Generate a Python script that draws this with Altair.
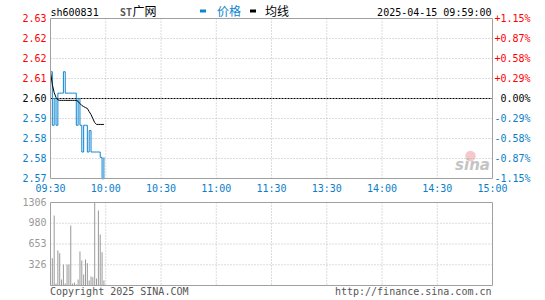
import altair as alt
import pandas as pd

# ---------------- data ----------------
minutes = list(range(30))  # 09:30 .. 09:59
price = [2.610, 2.590, 2.600, 2.590, 2.602, 2.602, 2.602, 2.610, 2.602, 2.602,
         2.602, 2.602, 2.602, 2.602, 2.590, 2.600, 2.590, 2.580, 2.590, 2.590,
         2.580, 2.588, 2.580, 2.580, 2.580, 2.580, 2.580, 2.578, 2.570, 2.578]
avg_price = [2.6101, 2.6052, 2.6022, 2.6004, 2.5995, 2.5993, 2.5993, 2.5993, 2.5993, 2.5993,
             2.5993, 2.5993, 2.5993, 2.5993, 2.5993, 2.5989, 2.5981, 2.5974, 2.5970, 2.5966,
             2.5963, 2.5951, 2.5940, 2.5925, 2.5910, 2.5903, 2.5903, 2.5903, 2.5903, 2.5903]
volume = [661, 430, 1101, 31, 551, 508, 94, 330, 31, 330,
          330, 944, 31, 47, 16, 94, 535, 393, 173, 409,
          351, 79, 142, 131, 1306, 110, 1180, 802, 524, 79]

prev_close = 2.60
price_top = 2.6299
price_bottom = 2.5701
vol_top = 1306

time_pos = [0, 30, 60, 90, 120, 150, 180, 210, 240]
time_labels = ["09:30", "10:00", "10:30", "11:00", "11:30", "13:30", "14:00", "14:30", "15:00"]
price_labels = ["2.63", "2.62", "2.62", "2.61", "2.60", "2.59", "2.58", "2.58", "2.57"]
pct_labels = ["+1.15%", "+0.87%", "+0.58%", "+0.29%", "0.00%", "-0.29%", "-0.58%", "-0.87%", "-1.15%"]
vol_labels = ["1306", "980", "653", "326"]

# ---------------- layout ----------------
W = 442
H = 267
RED = "#ff0000"
BLUE = "#0a7ec8"
LINE_BLUE = "#0f84d0"
GRID = "#b8b8b8"
BORDER = "#a0a0a0"
MONO = "DejaVu Sans Mono"
CJK = "Noto Sans CJK SC"

xs = alt.Scale(domain=[0, 240], range=[0, W], nice=False, zero=False)
ps = alt.Scale(domain=[price_bottom, price_top], range=[160, 0], nice=False, zero=False)
vs = alt.Scale(domain=[0, vol_top], range=[H, 184], nice=False, zero=False)

step = (price_top - prev_close) / 4
grid_vals = [price_top - i * step for i in range(9)]
lab_colors = [RED] * 4 + ["#000000"] + [BLUE] * 4
grid_df = pd.DataFrame({"p": grid_vals, "lab": price_labels, "pct": pct_labels, "c": lab_colors})
inner_grid = grid_df[(grid_df.index != 0) & (grid_df.index != 4) & (grid_df.index != 8)]

time_df = pd.DataFrame({"t": time_pos, "lab": time_labels})
inner_time = time_df[(time_df.t > 0) & (time_df.t < 240)]

vol_grid_vals = [vol_top * (4 - i) / 4 for i in range(4)]
vol_lab_df = pd.DataFrame({"v": vol_grid_vals, "lab": vol_labels})
vol_inner = vol_lab_df[vol_lab_df.v < vol_top]

series = pd.DataFrame({"m": minutes, "price": price, "avg": avg_price,
                       "vol": volume, "zero": [0] * len(minutes)})

X = lambda f: alt.X(f, type="quantitative", scale=xs, axis=None)
YP = lambda f: alt.Y(f, type="quantitative", scale=ps, axis=None)
YV = lambda f: alt.Y(f, type="quantitative", scale=vs, axis=None)

layers = []

# watermark logo (behind everything)
layers.append(alt.Chart(pd.DataFrame({"k": [0]})).mark_point(
    filled=True, color="#f2bcbc", size=110, opacity=0.8).encode(
    x=alt.value(420), y=alt.value(137.5)))

def txt(s, x, y, align="left", color="#000000", font=MONO, size=10, **kw):
    return alt.Chart(pd.DataFrame({"s": [s]})).mark_text(
        align=align, baseline="alphabetic", font=font, fontSize=size, color=color, **kw).encode(
        x=alt.value(x), y=alt.value(y), text="s:N")

layers.append(txt("sina", 422, 151.5, align="center", color="#c4c4c4", font="DejaVu Sans", size=15,
                  fontStyle="italic", fontWeight="bold"))

# price panel horizontal dotted grid
layers.append(alt.Chart(inner_grid).mark_rule(color=GRID, strokeDash=[1, 2], strokeWidth=1).encode(
    x=alt.value(0), x2=alt.value(W), y=YP("p")))
# vertical dotted grid (price + volume panels)
layers.append(alt.Chart(inner_time).mark_rule(color=GRID, strokeDash=[1, 2], strokeWidth=1).encode(
    x=X("t"), y=alt.value(0), y2=alt.value(160)))
layers.append(alt.Chart(inner_time).mark_rule(color=GRID, strokeDash=[1, 2], strokeWidth=1).encode(
    x=X("t"), y=alt.value(184), y2=alt.value(H)))
# volume horizontal grid
layers.append(alt.Chart(vol_inner).mark_rule(color=GRID, strokeDash=[1, 2], strokeWidth=1).encode(
    x=alt.value(0), x2=alt.value(W), y=YV("v")))
# previous close dashed line
layers.append(alt.Chart(pd.DataFrame({"p": [prev_close]})).mark_rule(
    color="#000000", strokeDash=[2, 1], strokeWidth=1).encode(
    x=alt.value(0), x2=alt.value(W), y=YP("p")))

# volume bars
layers.append(alt.Chart(series).mark_rule(color="#999999", strokeWidth=1).encode(
    x=X("m"), y=YV("vol"), y2="zero"))

# price line and average line
layers.append(alt.Chart(series).mark_line(color=LINE_BLUE, strokeWidth=1, interpolate="step-after").encode(
    x=X("m"), y=YP("price")))
layers.append(alt.Chart(series).mark_line(color="#000000", strokeWidth=1).encode(
    x=X("m"), y=YP("avg")))

# panel borders
layers.append(alt.Chart(pd.DataFrame({"a": [0], "b": [240], "lo": [price_bottom], "hi": [price_top]}))
              .mark_rect(fillOpacity=0, stroke=BORDER, strokeWidth=1).encode(
    x=X("a"), x2="b", y=YP("lo"), y2="hi"))
layers.append(alt.Chart(pd.DataFrame({"a": [0], "b": [240], "lo": [0], "hi": [vol_top]}))
              .mark_rect(fillOpacity=0, stroke=BORDER, strokeWidth=1).encode(
    x=X("a"), x2="b", y=YV("lo"), y2="hi"))

# axis labels
layers.append(alt.Chart(grid_df).mark_text(align="right", baseline="middle", font=MONO, fontSize=10).encode(
    x=alt.value(-4), y=YP("p"), text="lab:N", color=alt.Color("c:N", scale=None)))
layers.append(alt.Chart(grid_df).mark_text(align="right", baseline="middle", font=MONO, fontSize=10).encode(
    x=alt.value(W + 38), y=YP("p"), text="pct:N", color=alt.Color("c:N", scale=None)))
layers.append(alt.Chart(time_df).mark_text(align="center", baseline="middle", font=MONO, fontSize=10, color=BLUE).encode(
    x=X("t"), y=alt.value(170), text="lab:N"))
layers.append(alt.Chart(vol_lab_df).mark_text(align="right", baseline="middle", font=MONO, fontSize=10, color="#999999").encode(
    x=alt.value(-4), y=YV("v"), text="lab:N"))

# header
layers.append(txt("sh600831", 0, -3))
layers.append(txt("ST", 69.5, -3, color="#555555", fontWeight="bold"))
layers.append(txt("广网", 82, -3, font=CJK, size=12))
layers.append(alt.Chart(pd.DataFrame({"k": [0]})).mark_rule(color=LINE_BLUE, strokeWidth=3).encode(
    x=alt.value(149.5), x2=alt.value(155.5), y=alt.value(-7.5)))
layers.append(txt("价格", 166.5, -3, color=LINE_BLUE, font=CJK, size=12))
layers.append(alt.Chart(pd.DataFrame({"k": [0]})).mark_rule(color="#000000", strokeWidth=3).encode(
    x=alt.value(199.5), x2=alt.value(205.5), y=alt.value(-7.5)))
layers.append(txt("均线", 214.5, -3, font=CJK, size=12))
layers.append(txt("2025-04-15 09:59:00", W - 1, -3, align="right"))

# footer
layers.append(txt("Copyright 2025 SINA.COM", -0.5, 276.5, color="#555555"))
layers.append(txt("http://finance.sina.com.cn", W - 1, 276.5, align="right", color="#555555"))

chart = alt.layer(*layers).resolve_scale(y="independent").properties(
    width=W, height=H,
    autosize=alt.AutoSizeParams(type="none"),
    padding={"left": 50.5, "top": 18.5, "right": 52.5, "bottom": 14.5},
    background="#ffffff",
).configure_view(stroke=None)

chart.save("out.html", embed_options={"renderer": "svg", "actions": False})
